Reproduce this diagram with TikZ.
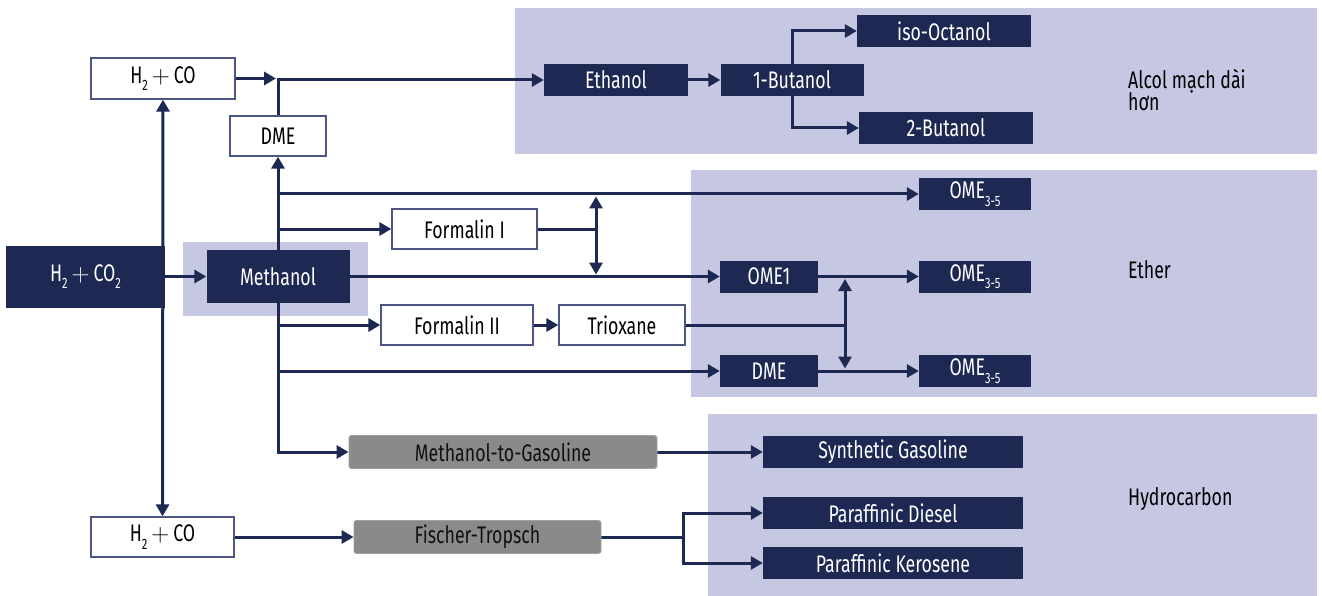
\documentclass[tikz,border=0pt]{standalone}
\usepackage{fontspec}
\setmainfont{Fira Sans}[FakeStretch=0.74]
\usetikzlibrary{arrows.meta}
\definecolor{navy}{HTML}{1D2853}
\definecolor{lav}{HTML}{C6C8E3}
\definecolor{gfill}{HTML}{8A8A8A}
\definecolor{gline}{HTML}{A0A0A0}
\definecolor{boxline}{HTML}{4B5684}
\definecolor{txt}{HTML}{111111}
\newcommand\fsz{\fontsize{24}{27}\selectfont}
\newcommand\lsub[1]{\raisebox{-0.6ex}{\fontsize{15}{15}\selectfont #1}}
\newcommand\pl{\,$+$\,}
\pgfdeclarelayer{bottom}
\pgfdeclarelayer{back}
\pgfsetlayers{bottom,back,main}
\begin{document}
\begin{tikzpicture}[x=1pt,y=-1pt,
  dark/.style={fill=navy,text=white,inner sep=0pt,font=\fsz},
  wbox/.style={fill=white,draw=boxline,line width=1.3pt,text=black,inner sep=0pt,font=\fsz},
  gbox/.style={fill=gfill,draw=gline,line width=0.8pt,rounded corners=2.5pt,text=txt,inner sep=0pt,font=\fsz},
  conn/.style={draw=navy,line width=3pt,-{Triangle[length=12pt,width=13pt]}},
  plain/.style={draw=navy,line width=3pt},
  dbl/.style={draw=navy,line width=3pt,{Triangle[length=12pt,width=13pt]}-{Triangle[length=12pt,width=13pt]}},
  lab/.style={text=black,font=\fsz,inner sep=0pt}]
\useasboundingbox (0,0) rectangle (1322,596);

\begin{pgfonlayer}{bottom}
\fill[lav] (515,8) rectangle (1317,154);
\fill[lav] (691,170) rectangle (1317,397);
\fill[lav] (708,414) rectangle (1317,596);
\fill[lav] (183,242) rectangle (368,316);
\end{pgfonlayer}

% nodes
\node[dark,minimum width=159pt,minimum height=62pt] (h2co2) at (85.5,276.5) {H\lsub{2}\pl CO\lsub{2}};
\node[dark,minimum width=143pt,minimum height=53pt] (meth) at (278,276.5) {Methanol};
\node[wbox,minimum width=144pt,minimum height=41pt] (h2coT) at (163,78.5) {H\lsub{2}\pl CO};
\node[wbox,minimum width=96pt,minimum height=40pt] (dmeT) at (278,136) {DME};
\node[dark,minimum width=144pt,minimum height=32pt] (eth) at (616,80) {Ethanol};
\node[dark,minimum width=143pt,minimum height=32pt] (but1) at (792,80) {1-Butanol};
\node[dark,minimum width=174pt,minimum height=32pt] (isooct) at (944,31) {iso-Octanol};
\node[dark,minimum width=174pt,minimum height=32pt] (but2) at (946,128) {2-Butanol};
\node[dark,minimum width=112pt,minimum height=32pt] (ome3a) at (975,194) {OME\lsub{3-5}};
\node[wbox,minimum width=145pt,minimum height=40pt] (form1) at (464.5,229) {Formalin I};
\node[dark,minimum width=98pt,minimum height=32pt] (ome1) at (769,276.5) {OME1};
\node[dark,minimum width=112pt,minimum height=32pt] (ome3b) at (975,276.5) {OME\lsub{3-5}};
\node[wbox,minimum width=152pt,minimum height=40pt] (form2) at (457,325) {Formalin II};
\node[wbox,minimum width=126pt,minimum height=40pt] (triox) at (622,325) {Trioxane};
\node[dark,minimum width=98pt,minimum height=32pt] (dme2) at (769,371) {DME};
\node[dark,minimum width=112pt,minimum height=32pt] (ome3c) at (975,371) {OME\lsub{3-5}};
\node[gbox,minimum width=308pt,minimum height=33pt] (mtg) at (503,452) {Methanol-to-Gasoline};
\node[dark,minimum width=260pt,minimum height=32pt] (synG) at (893,452) {Synthetic Gasoline};
\node[wbox,minimum width=143pt,minimum height=40pt] (h2coB) at (162.5,537) {H\lsub{2}\pl CO};
\node[gbox,minimum width=247pt,minimum height=33pt] (ft) at (477.5,537) {Fischer-Tropsch};
\node[dark,minimum width=260pt,minimum height=32pt] (parD) at (893,513) {Paraffinic Diesel};
\node[dark,minimum width=260pt,minimum height=32pt] (parK) at (893,563) {Paraffinic Kerosene};

\node[lab,anchor=base west] (lab1) at (1128,89) {Alcol mạch dài};
\node[lab,anchor=base west] (lab2) at (1128,111) {hơn};
\node[lab,anchor=base west] (lab3) at (1128,278) {Ether};
\node[lab,anchor=base west] (lab4) at (1128,505) {Hydrocarbon};

% junction coordinates
\coordinate (jT) at (276,78.5);
\coordinate (b1) at (278,194);
\coordinate (b2) at (278,229);
\coordinate (b3) at (278,325);
\coordinate (b4) at (278,371);
\coordinate (j1) at (596,229);
\coordinate (d1a) at (596,196.5);
\coordinate (d1b) at (596,274.5);
\coordinate (j2) at (845,325);
\coordinate (d2a) at (845,279);
\coordinate (d2b) at (845,368.5);
\coordinate (j3) at (683,537);

\begin{pgfonlayer}{back}
\draw[conn] (h2coT.east) -- (jT);
\draw[conn] (dmeT.north) |- (eth.west);
\draw[conn] (eth.east) -- (but1.west);
\draw[conn] (but1.north) |- (isooct.west);
\draw[conn] (but1.south) |- (but2.west);
\draw[conn] (meth.north) -- (dmeT.south);
\draw[conn] (meth.south) |- (mtg.west);
\draw[conn] (b1) -- (ome3a.west);
\draw[conn] (b2) -- (form1.west);
\draw[conn] (b3) -- (form2.west);
\draw[conn] (b4) -- (dme2.west);
\draw[conn] (h2co2.east) -- (meth.west);
\draw[conn] (meth.east) -- (ome1.west);
\draw[plain] (form1.east) -- (j1);
\draw[dbl] (d1a) -- (d1b);
\draw[conn] (ome1.east) -- (ome3b.west);
\draw[conn] (form2.east) -- (triox.west);
\draw[plain] (triox.east) -- (j2);
\draw[dbl] (d2a) -- (d2b);
\draw[conn] (dme2.east) -- (ome3c.west);
\draw[conn] (mtg.east) -- (synG.west);
\draw[dbl] (h2coT.south) -- (h2coB.north);
\draw[conn] (h2coB.east) -- (ft.west);
\draw[plain] (ft.east) -- (j3);
\draw[conn] (j3) |- (parD.west);
\draw[conn] (j3) |- (parK.west);
\end{pgfonlayer}
\end{tikzpicture}
\end{document}
